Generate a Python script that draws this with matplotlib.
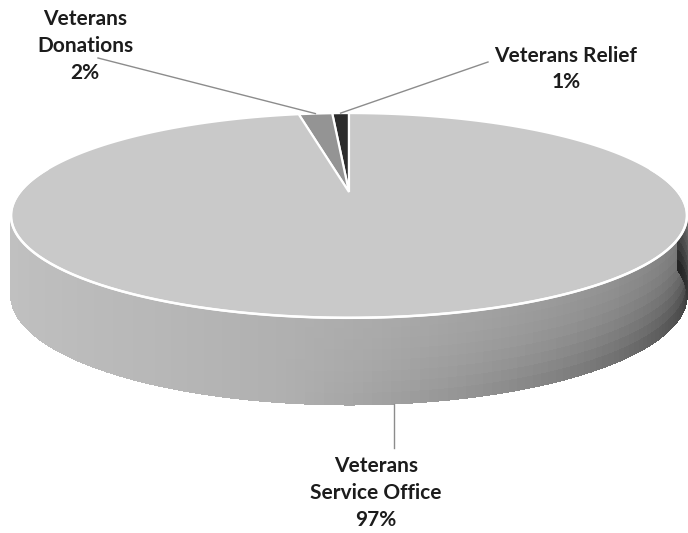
import numpy as np
import matplotlib.pyplot as plt
from matplotlib.patches import Polygon

# budget shares, listed counter-clockwise from 12 o'clock
names = ['Veterans Relief', 'Veterans\nDonations', 'Veterans\nService Office']
shares = [1, 2, 97]
top_colors = ['#2c2c2c', '#949494', '#c9c9c9']

# label placement (pixels) and leader line anchors
label_xy = [(566, 69), (85, 46), (376, 493)]
leader_from = [(488, 62), (98, 58), (394, 448)]

# simple perspective model of the disc
cx, cy = 349, 192
sx, sy = 329, 97
persp = 0.229
depth = 78


def proj(theta, drop=0.0):
    X = -np.sin(theta)
    Z = np.cos(theta)
    w = 1 + persp * Z
    return cx + sx * X / w, cy - sy * Z / w + drop * depth / w ** 0.41


fig = plt.figure(figsize=(6.88, 5.33), dpi=100)
ax = fig.add_axes([0, 0, 1, 1])
ax.set_xlim(0, 688)
ax.set_ylim(533, 0)
ax.axis('off')

fracs = np.array(shares) / np.sum(shares)
bounds = np.concatenate([[0], np.cumsum(fracs)]) * 2 * np.pi

# side wall of the big slice (front half only)
big_lo, big_hi = bounds[2], bounds[3]
th_side = np.linspace(max(big_lo, np.pi / 2), min(big_hi, 3 * np.pi / 2), 140)
rows = 8
for i in range(len(th_side) - 1):
    t = (0.5 * (th_side[i] + th_side[i + 1]) - np.pi / 2) / np.pi
    for j in range(rows):
        d0, d1 = j / rows, (j + 1) / rows
        pts = [proj(th_side[i], d0), proj(th_side[i + 1], d0),
               proj(th_side[i + 1], d1), proj(th_side[i], d1)]
        g = 0.76 - 0.05 * t - 0.34 * t ** 2.5
        g -= 0.26 * max(t - 0.45, 0) / 0.55 * ((j + 0.5) / rows) ** 1.6
        c = (g, g, g)
        ax.add_patch(Polygon(pts, closed=True, facecolor=c, edgecolor=c,
                             lw=0.5, antialiased=False))

# top faces of the slices
for k in range(len(shares)):
    th = np.linspace(bounds[k], bounds[k + 1], max(4, int(400 * fracs[k])))
    xs, ys = proj(th)
    pts = [(cx, cy)] + list(zip(xs, ys))
    ax.add_patch(Polygon(pts, closed=True, facecolor=top_colors[k],
                         edgecolor='white', lw=1.6, joinstyle='miter'))

# white rim along the front edge
th_rim = np.linspace(np.pi / 2 - 0.25, 3 * np.pi / 2 + 0.25, 200)
rx, ry = proj(th_rim)
ax.plot(rx, ry, color='white', lw=1.8)

# leader lines and labels
for k in range(len(shares)):
    fx, fy = leader_from[k]
    if k == 2:
        # drops straight down onto the lower rim of the wall
        w = 1 - persp
        th = np.pi + np.arcsin((fx - cx) * w / sx)
        ex, ey = fx, proj(th, 1.0)[1]
    else:
        ex, ey = proj(0.5 * (bounds[k] + bounds[k + 1]))
    ax.plot([fx, ex], [fy, ey], color='#8c8c8c', lw=1.0)
    ax.text(label_xy[k][0], label_xy[k][1], f'{names[k]}\n{shares[k]}%',
            ha='center', va='center', fontsize=15, fontweight='bold',
            family='Lato', color='#1c1c1c', linespacing=1.43)

fig.savefig('out.png', dpi=100)
